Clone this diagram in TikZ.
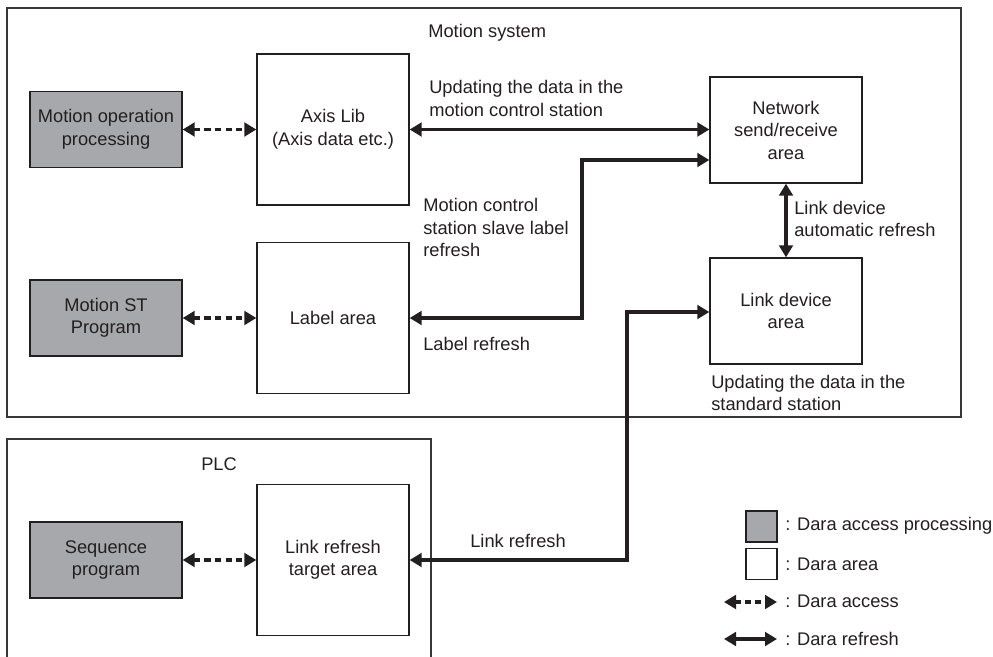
\documentclass[tikz,border=0pt]{standalone}
\usepackage{fontspec}
\setmainfont{Liberation Sans}
\usepackage{xcolor}
\usetikzlibrary{arrows.meta, positioning}
\definecolor{procgray}{RGB}{167,168,171}
\definecolor{framegray}{RGB}{55,55,55}
\definecolor{inkblack}{RGB}{35,31,32}
\newcommand{\diagfont}{\fontsize{13pt}{16pt}\selectfont}

\tikzset{
  area/.style={draw=inkblack, line width=0.9pt, fill=white, text=inkblack, minimum width=3.8cm, inner sep=0pt, align=center, font=\diagfont},
  proc/.style={area, fill=procgray, minimum height=1.9cm},
  frame/.style={draw=framegray, line width=1pt},
  note/.style={inner sep=0pt, align=left, anchor=west, text=inkblack, font=\diagfont},
  access/.style={draw=inkblack, line width=2.3pt, dash pattern=on 4.5pt off 3pt, {Triangle[length=3mm,width=3.4mm]}-{Triangle[length=3mm,width=3.4mm]}},
  refresh/.style={draw=inkblack, line width=2.3pt, {Triangle[length=3mm,width=3.4mm]}-{Triangle[length=3mm,width=3.4mm]}}
}

\begin{document}
\begin{tikzpicture}[x=0.025cm, y=-0.025cm]
  \useasboundingbox (0,0) rectangle (993,657);
  \draw[frame] (7,8) rectangle (961,417);
  \draw[frame] (7,657) |- (431,439) -- (431,657);
  \node[note] (motsys) at (428,33) {Motion system};
  \node[note] (plc) at (201,464) {PLC};

  \node[proc] (mop) at (106,129.5) {Motion operation\\processing};
  \node[area, minimum height=3.775cm] (axis) at (333,129.5) {Axis Lib\\(Axis data etc.)};
  \node[proc] (mst) at (106,318) {Motion ST\\Program};
  \node[area, minimum height=3.775cm] (lbl) at (333,318) {Label area};
  \node[area, minimum height=2.65cm] (net) at (786,130) {Network\\send/receive\\area};
  \node[area, minimum height=2.65cm] (ldev) at (786,311) {Link device\\area};
  \node[proc] (seq) at (106,560) {Sequence\\program};
  \node[area, minimum height=3.775cm] (lrt) at (333,560) {Link refresh\\target area};

  \coordinate (bendA) at (582,160);
  \coordinate (bendB) at (627,312);
  \draw[access] (mop.east) -- (mop.east -| axis.west);
  \draw[access] (mst.east) -- (mst.east -| lbl.west);
  \draw[access] (seq.east) -- (seq.east -| lrt.west);
  \draw[refresh] (axis.east) -- (axis.east -| net.west);
  \draw[refresh] (lbl.east) -| (bendA) -- (bendA -| net.west);
  \draw[refresh] (lrt.east) -| (bendB) -- (bendB -| ldev.west);
  \draw[refresh] (net.south) -- (ldev.north);

  \node[note] (upd1) at (429,98.5) {Updating the data in the\\motion control station};
  \node[note] (slave) at (423,227.5) {Motion control\\station slave label\\refresh};
  \node[note] (lblref) at (423,344) {Label refresh};
  \node[note] (autoref) at (794,219) {Link device\\automatic refresh};
  \node[note] (upd2) at (711,393) {Updating the data in the\\standard station};
  \node[note] (linkref) at (470,541) {Link refresh};

  \node[proc, minimum width=0.775cm, minimum height=0.775cm] (lgproc) at (761.5,526.5) {};
  \node[area, minimum width=0.775cm, minimum height=0.775cm] (lgarea) at (761.5,564) {};
  \coordinate (lgaccA) at (724,602);
  \coordinate (lgaccB) at (777,602);
  \coordinate (lgrefA) at (724,639);
  \coordinate (lgrefB) at (777,639);
  \draw[access, dash pattern=on 4pt off 3pt] (lgaccA) -- (lgaccB);
  \draw[refresh] (lgrefA) -- (lgrefB);
  \node[note] at (785,526) {: Dara access processing};
  \node[note] at (785,564) {: Dara area};
  \node[note] at (785,601) {: Dara access};
  \node[note] at (785,639) {: Dara refresh};
\end{tikzpicture}
\end{document}
